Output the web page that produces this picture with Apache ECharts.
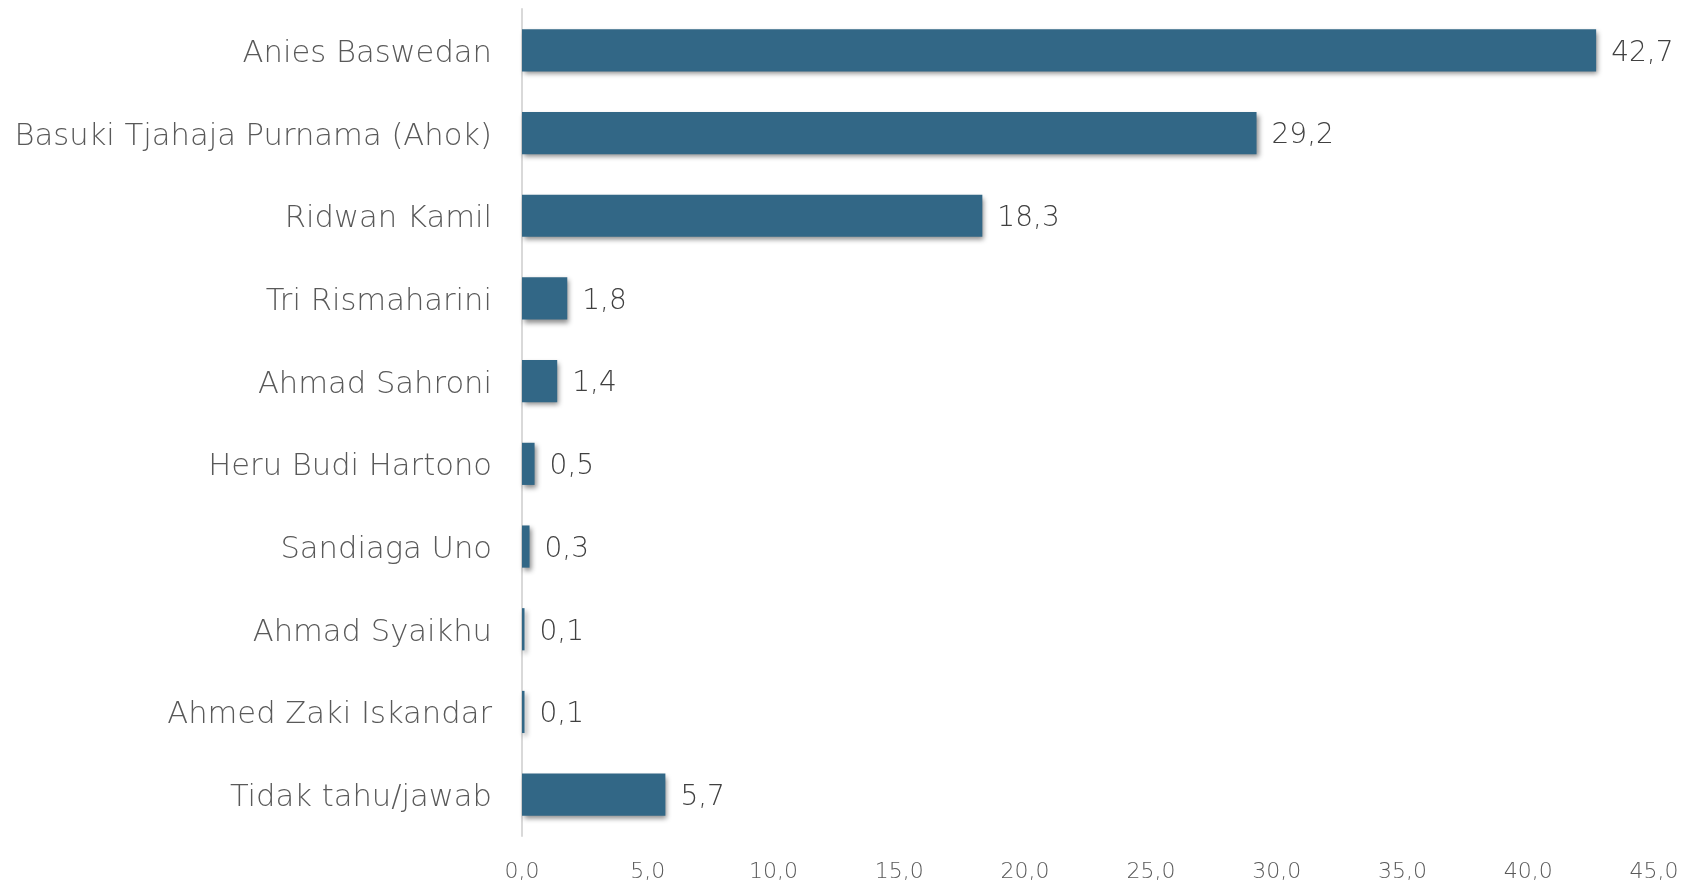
<!DOCTYPE html>
<html>
<head>
<meta charset="utf-8">
<script src="https://cdn.jsdelivr.net/npm/echarts@6/dist/echarts.min.js"></script>
<style>
html,body{margin:0;padding:0;background:#fff;}
#chart{width:1689px;height:884px;}
</style>
</head>
<body>
<div id="chart"></div>
<script>
const categories = [
  "Anies Baswedan",
  "Basuki Tjahaja Purnama (Ahok)",
  "Ridwan Kamil",
  "Tri Rismaharini",
  "Ahmad Sahroni",
  "Heru Budi Hartono",
  "Sandiaga Uno",
  "Ahmad Syaikhu",
  "Ahmed Zaki Iskandar",
  "Tidak tahu/jawab"
];
const values = [42.7, 29.2, 18.3, 1.8, 1.4, 0.5, 0.3, 0.1, 0.1, 5.7];
const axisMin = 0, axisMax = 45, axisStep = 5;

const fmt = v => Number(v).toFixed(1).replace('.', ',');
const FONT = 'DejaVu Sans';

const chart = echarts.init(document.getElementById('chart'));
chart.setOption({
  animation: false,
  backgroundColor: '#ffffff',
  grid: { left: 522, right: 35, top: 9, bottom: 48, containLabel: false },
  xAxis: {
    type: 'value',
    min: axisMin, max: axisMax, interval: axisStep,
    axisLine: { show: false },
    axisTick: { show: false },
    splitLine: { show: false },
    axisLabel: {
      formatter: fmt,
      color: '#595959',
      fontFamily: FONT,
      fontWeight: 200,
      fontSize: 22,
      margin: 25
    }
  },
  yAxis: {
    type: 'category',
    data: categories,
    inverse: true,
    axisLine: { show: true, lineStyle: { color: '#d9d9d9', width: 2 } },
    axisTick: { show: false },
    axisLabel: {
      formatter: v => '{c|' + v + '}',
      rich: {
        c: {
          color: '#595959',
          fontFamily: FONT,
          fontWeight: 200,
          fontSize: 30.6,
          padding: [7, 0, 0, 0]
        }
      },
      margin: 30
    }
  },
  series: [{
    type: 'bar',
    data: values,
    barWidth: '51%',
    itemStyle: {
      color: '#326786',
      shadowColor: 'rgba(0,0,0,0.45)',
      shadowBlur: 5,
      shadowOffsetX: 2,
      shadowOffsetY: 3
    },
    label: {
      show: true,
      position: 'right',
      distance: 15,
      offset: [0, 3],
      formatter: p => fmt(p.value),
      color: '#404040',
      fontFamily: FONT,
      fontWeight: 200,
      fontSize: 28
    }
  }]
});
</script>
</body>
</html>
